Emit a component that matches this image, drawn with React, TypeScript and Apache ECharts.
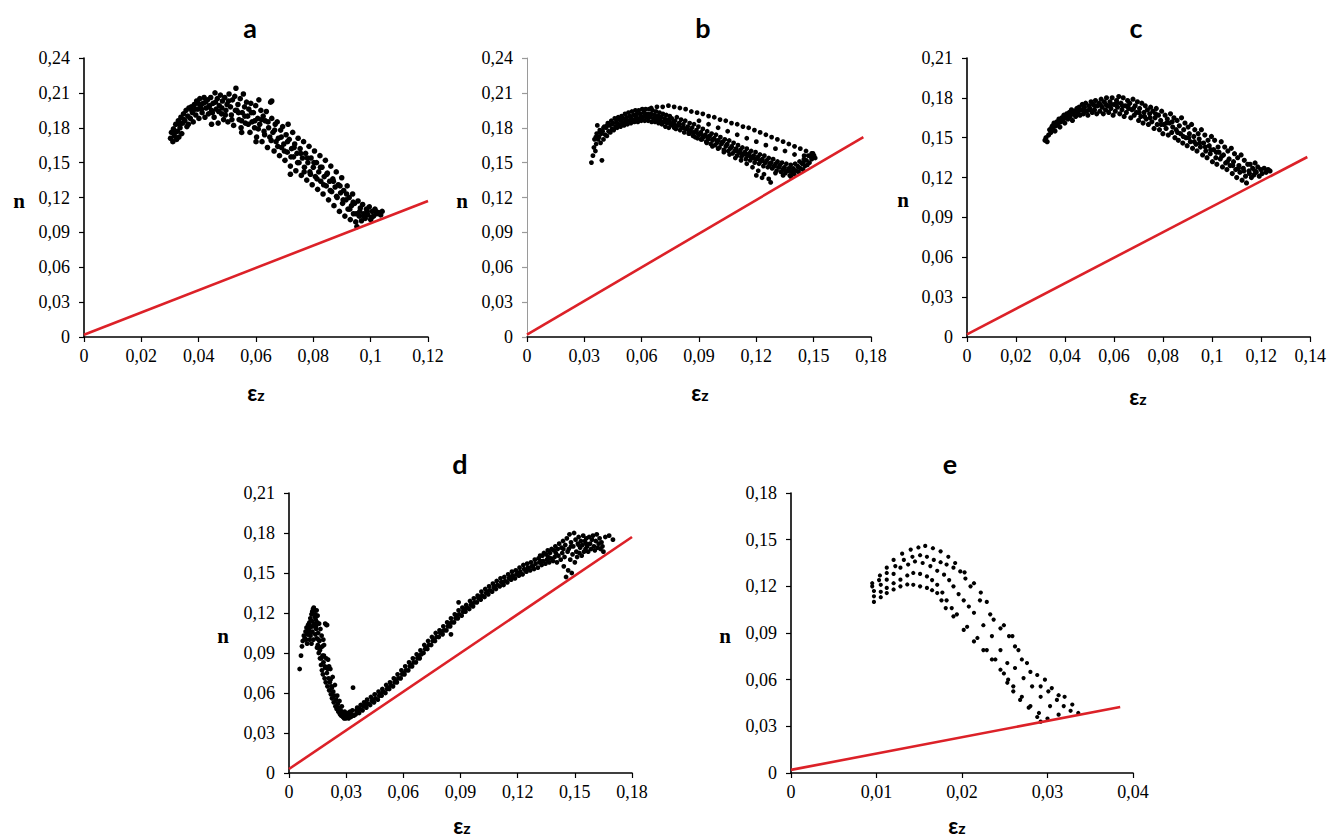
import React, { useEffect, useRef } from "react";
import * as echarts from "echarts";

// ---------- DATA ----------
const panelTitles = ["a", "b", "c", "d", "e"];
const xMax = [0.12, 0.18, 0.14, 0.18, 0.04];
const xStep = [0.02, 0.03, 0.02, 0.03, 0.01];
const yMax = [0.24, 0.24, 0.21, 0.21, 0.18];
const yStep = [0.03, 0.03, 0.03, 0.03, 0.03];

const redLineA = [[0, 0.002], [0.12, 0.117]];
const redLineB = [[0, 0.002], [0.176, 0.172]];
const redLineC = [[0, 0.002], [0.1388, 0.1355]];
const redLineD = [[0, 0.003], [0.18, 0.177]];
const redLineE = [[0, 0.002], [0.0385, 0.0424]];

const pointsA = [
  [0.0302,0.171],[0.0305,0.176],[0.0310,0.168],[0.0312,0.179],[0.0315,0.173],
  [0.0320,0.183],[0.0323,0.170],[0.0326,0.177],[0.0329,0.186],[0.0331,0.172],
  [0.0335,0.180],[0.0338,0.189],[0.0341,0.175],[0.0344,0.184],[0.0347,0.192],
  [0.0352,0.186],[0.0356,0.195],[0.0359,0.181],[0.0362,0.190],[0.0366,0.197],
  [0.0371,0.188],[0.0374,0.198],[0.0378,0.193],[0.0381,0.185],[0.0385,0.200],
  [0.0390,0.191],[0.0393,0.203],[0.0397,0.196],[0.0401,0.188],[0.0404,0.205],[0.0407,0.199],
  [0.0412,0.193],[0.0415,0.201],[0.0419,0.206],[0.0422,0.189],[0.0426,0.197],
  [0.0431,0.204],[0.0434,0.192],[0.0438,0.199],[0.0442,0.206],[0.0445,0.195],
  [0.0450,0.201],[0.0454,0.189],[0.0457,0.210],[0.0461,0.196],[0.0465,0.205],[0.0468,0.184],
  [0.0472,0.199],[0.0476,0.208],[0.0480,0.192],[0.0483,0.203],[0.0487,0.187],
  [0.0491,0.206],[0.0495,0.195],[0.0499,0.200],[0.0502,0.185],[0.0506,0.209],
  [0.0511,0.198],[0.0514,0.191],[0.0518,0.204],[0.0522,0.182],[0.0526,0.207],[0.0530,0.214],
  [0.0533,0.195],[0.0537,0.200],[0.0541,0.187],[0.0545,0.205],[0.0548,0.180],
  [0.0552,0.193],[0.0556,0.209],[0.0560,0.198],[0.0563,0.184],[0.0567,0.202],
  [0.0571,0.190],[0.0575,0.196],[0.0579,0.176],[0.0582,0.201],[0.0586,0.185],
  [0.0591,0.193],[0.0595,0.180],[0.0599,0.199],[0.0602,0.172],[0.0606,0.188],[0.0610,0.204],
  [0.0613,0.183],[0.0617,0.195],[0.0621,0.168],[0.0625,0.190],[0.0628,0.177],
  [0.0632,0.186],[0.0636,0.194],[0.0640,0.163],[0.0644,0.180],[0.0648,0.172],[0.0651,0.202],
  [0.0655,0.188],[0.0659,0.176],[0.0663,0.160],[0.0667,0.183],[0.0670,0.168],
  [0.0674,0.185],[0.0678,0.171],[0.0682,0.156],[0.0686,0.178],[0.0689,0.163],
  [0.0693,0.181],[0.0697,0.166],[0.0701,0.152],[0.0705,0.174],[0.0709,0.159],[0.0712,0.183],
  [0.0716,0.170],[0.0720,0.147],[0.0724,0.162],[0.0728,0.176],[0.0731,0.155],
  [0.0735,0.166],[0.0739,0.143],[0.0743,0.158],[0.0747,0.171],[0.0750,0.150],
  [0.0754,0.162],[0.0758,0.139],[0.0762,0.154],[0.0766,0.168],[0.0769,0.146],
  [0.0773,0.158],[0.0777,0.135],[0.0781,0.150],[0.0785,0.164],[0.0788,0.142],
  [0.0792,0.154],[0.0796,0.131],[0.0800,0.146],[0.0804,0.160],[0.0807,0.138],
  [0.0811,0.150],[0.0815,0.127],[0.0819,0.142],[0.0823,0.156],[0.0826,0.134],
  [0.0830,0.146],[0.0834,0.123],[0.0838,0.138],[0.0842,0.152],[0.0845,0.130],
  [0.0849,0.141],[0.0853,0.118],[0.0857,0.134],[0.0861,0.147],[0.0864,0.125],
  [0.0868,0.136],[0.0872,0.113],[0.0876,0.129],[0.0880,0.142],[0.0883,0.120],
  [0.0887,0.131],[0.0891,0.108],[0.0895,0.124],[0.0899,0.137],[0.0902,0.115],
  [0.0906,0.126],[0.0910,0.104],[0.0914,0.118],[0.0918,0.130],[0.0921,0.110],
  [0.0925,0.120],[0.0929,0.101],[0.0933,0.113],[0.0937,0.123],[0.0940,0.106],
  [0.0944,0.115],[0.0948,0.099],[0.0952,0.095],[0.0956,0.117],[0.0960,0.104],
  [0.0964,0.111],[0.0968,0.100],[0.0972,0.114],[0.0976,0.106],
  [0.0981,0.102],[0.0985,0.110],[0.0990,0.105],[0.0995,0.112],[0.1000,0.101],
  [0.1005,0.108],[0.1010,0.104],[0.1015,0.110],[0.1020,0.106],
  [0.1028,0.107],[0.1035,0.105],[0.1040,0.108]
];
const pointsAFill = [
  [0.0318,0.176],[0.0333,0.183],[0.0349,0.187],[0.0364,0.183],[0.0376,0.195],[0.0388,0.196],
  [0.0399,0.201],[0.0410,0.196],[0.0424,0.202],[0.0436,0.198],[0.0448,0.193],[0.0459,0.202],
  [0.0470,0.194],[0.0481,0.197],[0.0493,0.191],[0.0504,0.203],[0.0516,0.187],[0.0528,0.195],
  [0.0539,0.193],[0.0550,0.186],[0.0561,0.190],[0.0573,0.183],[0.0584,0.193],[0.0596,0.186],
  [0.0608,0.179],[0.0619,0.187],[0.0630,0.174],[0.0642,0.185],[0.0653,0.169],[0.0665,0.178],
  [0.0676,0.164],[0.0688,0.172],[0.0699,0.160],[0.0710,0.168],[0.0722,0.155],[0.0733,0.163],
  [0.0745,0.150],[0.0756,0.158],[0.0768,0.142],[0.0779,0.154],[0.0790,0.140],[0.0802,0.150],
  [0.0813,0.136],[0.0825,0.146],[0.0836,0.131],[0.0847,0.140],[0.0859,0.126],[0.0870,0.134],
  [0.0881,0.121],[0.0893,0.130],[0.0904,0.118],[0.0916,0.123],[0.0927,0.110],[0.0939,0.116],
  [0.0950,0.106],[0.0962,0.108],[0.0975,0.104],[0.0988,0.108],[0.1003,0.103],[0.1018,0.108],
  [0.0655,0.203],[0.0445,0.183],[0.0550,0.176],[0.0600,0.168],[0.0720,0.140]
];

const pointsBMain = [
  [0.0337,0.150],[0.0345,0.156],[0.0350,0.163],[0.0353,0.170],
  [0.0358,0.160],[0.0362,0.166],[0.0365,0.175],[0.0368,0.182],[0.0372,0.170],
  [0.0377,0.172],[0.0381,0.178],[0.0385,0.167],[0.0389,0.175],[0.0392,0.152],
  [0.0396,0.177],[0.0400,0.170],[0.0405,0.181],[0.0409,0.174],
  [0.0414,0.180],[0.0418,0.173],[0.0423,0.184],[0.0427,0.177],
  [0.0432,0.182],[0.0436,0.176],[0.0441,0.186],[0.0445,0.179],
  [0.0450,0.184],[0.0454,0.178],[0.0459,0.188],[0.0463,0.181],
  [0.0468,0.186],[0.0472,0.180],[0.0477,0.189],[0.0481,0.183],
  [0.0486,0.187],[0.0490,0.181],[0.0495,0.190],[0.0499,0.184],
  [0.0504,0.188],[0.0508,0.182],[0.0513,0.192],[0.0517,0.185],
  [0.0522,0.189],[0.0526,0.183],[0.0531,0.193],[0.0535,0.186],
  [0.0540,0.190],[0.0544,0.184],[0.0549,0.194],[0.0553,0.187],
  [0.0558,0.191],[0.0562,0.185],[0.0567,0.195],[0.0571,0.188],
  [0.0576,0.192],[0.0580,0.185],[0.0585,0.195],[0.0589,0.188],
  [0.0594,0.192],[0.0598,0.186],[0.0603,0.196],[0.0607,0.189],
  [0.0612,0.193],[0.0616,0.186],[0.0621,0.196],[0.0625,0.189],
  [0.0630,0.192],[0.0634,0.186],[0.0639,0.196],[0.0643,0.189],
  [0.0648,0.192],[0.0652,0.185],[0.0657,0.195],[0.0661,0.188],
  [0.0666,0.191],[0.0670,0.185],[0.0675,0.194],[0.0679,0.187],
  [0.0684,0.190],[0.0688,0.184],[0.0693,0.193],[0.0697,0.186],
  [0.0702,0.189],[0.0706,0.183],[0.0711,0.192],[0.0715,0.185],
  [0.0720,0.188],[0.0724,0.181],[0.0729,0.191],[0.0733,0.184],
  [0.0738,0.187],[0.0742,0.180],[0.0747,0.190],[0.0751,0.183],
  [0.0757,0.188],[0.0761,0.182],[0.0766,0.185],[0.0770,0.180],
  [0.0775,0.186],[0.0779,0.179],[0.0784,0.189],[0.0788,0.182],
  [0.0796,0.184],[0.0801,0.178],[0.0806,0.187],[0.0810,0.180],
  [0.0818,0.183],[0.0823,0.176],[0.0828,0.186],[0.0833,0.179],
  [0.0841,0.181],[0.0846,0.175],[0.0851,0.184],[0.0856,0.177],
  [0.0864,0.180],[0.0869,0.173],[0.0874,0.183],[0.0879,0.176],
  [0.0887,0.178],[0.0892,0.171],[0.0897,0.181],[0.0902,0.174],
  [0.0910,0.176],[0.0915,0.170],[0.0920,0.179],[0.0925,0.172],
  [0.0933,0.174],[0.0938,0.168],[0.0943,0.177],[0.0948,0.170],
  [0.0956,0.173],[0.0961,0.166],[0.0966,0.175],[0.0971,0.169],
  [0.0979,0.171],[0.0984,0.165],[0.0989,0.174],[0.0994,0.167],
  [0.1002,0.169],[0.1007,0.163],[0.1012,0.172],[0.1017,0.166],
  [0.1025,0.168],[0.1030,0.161],[0.1035,0.170],[0.1040,0.164],
  [0.1048,0.166],[0.1053,0.160],[0.1058,0.169],[0.1063,0.162],
  [0.1071,0.164],[0.1076,0.158],[0.1081,0.167],[0.1086,0.160],
  [0.1094,0.162],[0.1099,0.156],[0.1104,0.165],[0.1109,0.159],
  [0.1117,0.161],[0.1122,0.155],[0.1127,0.163],[0.1132,0.157],
  [0.1140,0.159],[0.1145,0.153],[0.1150,0.162],[0.1155,0.156],
  [0.1163,0.158],[0.1168,0.152],[0.1173,0.160],[0.1178,0.154],
  [0.1186,0.156],[0.1191,0.150],[0.1196,0.159],[0.1201,0.153],
  [0.1209,0.155],[0.1214,0.149],[0.1219,0.157],[0.1224,0.151],
  [0.1232,0.153],[0.1237,0.147],[0.1242,0.156],[0.1247,0.150],
  [0.1255,0.152],[0.1260,0.146],[0.1265,0.154],[0.1270,0.148],
  [0.1278,0.150],[0.1283,0.145],[0.1288,0.153],[0.1293,0.147],
  [0.1301,0.149],[0.1306,0.143],[0.1311,0.151],[0.1316,0.146],
  [0.1324,0.148],[0.1329,0.142],[0.1334,0.150],[0.1339,0.144],
  [0.1347,0.146],[0.1352,0.141],[0.1357,0.149],[0.1362,0.143],
  [0.1370,0.145],[0.1375,0.139],[0.1380,0.148],[0.1385,0.142],
  [0.1393,0.145],[0.1398,0.140],[0.1403,0.149],[0.1408,0.143],
  [0.1416,0.147],[0.1421,0.142],[0.1426,0.151],[0.1431,0.145],
  [0.1439,0.149],[0.1444,0.144],[0.1449,0.153],[0.1454,0.147],
  [0.1462,0.152],[0.1467,0.148],[0.1472,0.156],[0.1478,0.150],
  [0.1485,0.155],[0.1490,0.153],[0.1496,0.158],[0.1502,0.156],[0.1508,0.154]
];
const pointsBFill = [
  [0.0360,0.172],[0.0380,0.176],[0.0400,0.180],[0.0420,0.182],[0.0445,0.183],[0.0470,0.184],
  [0.0495,0.186],[0.0520,0.187],[0.0545,0.188],[0.0570,0.190],[0.0595,0.190],[0.0620,0.191],
  [0.0645,0.190],[0.0670,0.190],[0.0695,0.189],[0.0720,0.186],[0.0745,0.185],[0.0770,0.183],
  [0.0795,0.182],[0.0820,0.180],[0.0845,0.178],[0.0870,0.176],[0.0895,0.175],[0.0920,0.173],
  [0.0945,0.172],[0.0970,0.170],[0.0995,0.169],[0.1020,0.167],[0.1045,0.165],[0.1070,0.163],
  [0.1095,0.160],[0.1120,0.158],[0.1145,0.157],[0.1170,0.155],[0.1195,0.153],[0.1220,0.152],
  [0.1245,0.150],[0.1270,0.149],[0.1295,0.147],[0.1320,0.146],[0.1345,0.145],[0.1370,0.143],
  [0.1395,0.144],[0.1420,0.146],[0.1445,0.150]
];
const pointsBUpper = [
  [0.0650,0.197],[0.0680,0.198],[0.0710,0.198],[0.0740,0.199],[0.0770,0.198],[0.0800,0.197],
  [0.0830,0.196],[0.0860,0.194],[0.0890,0.193],[0.0920,0.192],[0.0950,0.190],[0.0980,0.189],
  [0.1010,0.187],[0.1040,0.186],[0.1070,0.184],[0.1100,0.183],[0.1130,0.181],[0.1160,0.180],
  [0.1190,0.178],[0.1220,0.176],[0.1250,0.174],[0.1280,0.172],[0.1310,0.170],[0.1340,0.168],
  [0.1370,0.166],[0.1400,0.164],[0.1430,0.162],[0.1460,0.160],[0.1490,0.158],
  [0.0900,0.186],[0.0950,0.183],[0.1000,0.180],[0.1050,0.177],[0.1100,0.174],[0.1150,0.171],
  [0.1200,0.168],[0.1250,0.165],[0.1300,0.162],[0.1350,0.160],[0.1400,0.157],[0.1450,0.156]
];
const pointsBLower = [
  [0.0850,0.175],[0.0880,0.172],[0.0910,0.170],[0.0940,0.167],[0.0970,0.164],[0.1000,0.162],
  [0.1030,0.159],[0.1060,0.157],[0.1090,0.154],[0.1120,0.152],[0.1150,0.149],[0.1180,0.146],
  [0.1210,0.143],[0.1240,0.140],[0.1265,0.136],[0.1275,0.133],[0.1200,0.139],[0.1230,0.137],
  [0.1300,0.141],[0.1340,0.139],[0.1380,0.138]
];

const pointsC = [
  [0.0318,0.148],[0.0322,0.150],[0.0327,0.147],
  [0.0333,0.152],[0.0337,0.156],[0.0342,0.154],[0.0346,0.158],
  [0.0351,0.157],[0.0355,0.161],[0.0359,0.155],[0.0363,0.159],[0.0367,0.162],
  [0.0371,0.160],[0.0375,0.164],[0.0379,0.158],[0.0383,0.162],[0.0387,0.165],
  [0.0391,0.163],[0.0395,0.167],[0.0399,0.161],[0.0403,0.165],[0.0407,0.168],
  [0.0412,0.164],[0.0417,0.169],[0.0421,0.166],[0.0426,0.171],[0.0430,0.163],[0.0434,0.168],
  [0.0439,0.170],[0.0443,0.166],[0.0448,0.172],[0.0452,0.168],[0.0457,0.173],[0.0461,0.167],
  [0.0466,0.171],[0.0470,0.175],[0.0475,0.168],[0.0479,0.173],[0.0484,0.176],[0.0488,0.170],[0.0493,0.167],[0.0497,0.174],
  [0.0502,0.172],[0.0506,0.177],[0.0511,0.169],[0.0515,0.175],[0.0520,0.171],[0.0524,0.178],[0.0529,0.168],[0.0533,0.174],
  [0.0538,0.176],[0.0542,0.170],[0.0547,0.179],[0.0551,0.173],[0.0556,0.168],[0.0560,0.177],[0.0565,0.171],[0.0569,0.180],[0.0574,0.174],
  [0.0578,0.169],[0.0583,0.177],[0.0587,0.172],[0.0592,0.180],[0.0596,0.167],[0.0601,0.175],[0.0605,0.170],[0.0610,0.178],[0.0614,0.173],[0.0619,0.181],
  [0.0623,0.168],[0.0628,0.176],[0.0632,0.171],[0.0637,0.180],[0.0641,0.166],[0.0646,0.174],[0.0650,0.169],[0.0655,0.178],[0.0659,0.172],
  [0.0664,0.176],[0.0668,0.165],[0.0673,0.171],[0.0677,0.179],[0.0682,0.167],[0.0686,0.174],[0.0691,0.169],[0.0695,0.177],[0.0700,0.163],
  [0.0704,0.172],[0.0709,0.166],[0.0713,0.176],[0.0718,0.161],[0.0722,0.169],[0.0727,0.174],[0.0731,0.164],[0.0736,0.171],[0.0740,0.160],
  [0.0745,0.168],[0.0749,0.173],[0.0754,0.162],[0.0758,0.170],[0.0763,0.157],[0.0767,0.165],[0.0772,0.172],[0.0776,0.160],[0.0781,0.167],
  [0.0785,0.156],[0.0790,0.163],[0.0794,0.170],[0.0799,0.153],[0.0803,0.160],[0.0808,0.167],[0.0812,0.157],[0.0817,0.164],[0.0821,0.152],
  [0.0826,0.161],[0.0830,0.168],[0.0835,0.154],[0.0839,0.158],[0.0844,0.165],[0.0848,0.150],[0.0853,0.156],[0.0857,0.163],[0.0862,0.148],
  [0.0866,0.159],[0.0871,0.153],[0.0875,0.165],[0.0880,0.146],[0.0884,0.156],[0.0889,0.161],[0.0893,0.150],[0.0898,0.144],[0.0902,0.158],
  [0.0907,0.153],[0.0911,0.147],[0.0916,0.160],[0.0920,0.142],[0.0925,0.151],[0.0929,0.156],[0.0934,0.145],[0.0938,0.140],[0.0943,0.153],
  [0.0947,0.149],[0.0952,0.143],[0.0956,0.156],[0.0961,0.137],[0.0965,0.146],[0.0970,0.152],[0.0974,0.140],[0.0979,0.135],[0.0983,0.148],
  [0.0988,0.144],[0.0992,0.138],[0.0997,0.151],[0.1001,0.132],[0.1006,0.141],[0.1010,0.148],[0.1015,0.135],[0.1019,0.130],[0.1024,0.143],
  [0.1028,0.139],[0.1033,0.134],[0.1037,0.147],[0.1042,0.128],[0.1046,0.137],[0.1051,0.143],[0.1055,0.131],[0.1060,0.126],[0.1064,0.140],
  [0.1069,0.134],[0.1073,0.129],[0.1078,0.142],[0.1082,0.123],[0.1087,0.132],[0.1091,0.138],[0.1096,0.126],[0.1100,0.120],[0.1104,0.135],
  [0.1109,0.129],[0.1113,0.124],[0.1118,0.137],[0.1122,0.118],[0.1127,0.127],[0.1131,0.133],[0.1136,0.121],[0.1140,0.116],[0.1145,0.130],
  [0.1150,0.125],[0.1155,0.130],[0.1160,0.120],[0.1165,0.127],[0.1170,0.122],[0.1175,0.131],
  [0.1180,0.124],[0.1186,0.128],[0.1192,0.121],[0.1198,0.126],[0.1204,0.123],
  [0.1212,0.127],[0.1220,0.124],[0.1228,0.126],[0.1236,0.125]
];
const pointsCFill = [
  [0.0349,0.159],[0.0369,0.161],[0.0389,0.164],[0.0410,0.166],[0.0432,0.170],[0.0455,0.170],
  [0.0477,0.171],[0.0499,0.171],[0.0522,0.174],[0.0544,0.175],[0.0566,0.175],[0.0589,0.175],
  [0.0611,0.176],[0.0634,0.174],[0.0657,0.174],[0.0679,0.172],[0.0702,0.169],[0.0724,0.166],
  [0.0747,0.165],[0.0769,0.168],[0.0792,0.160],[0.0814,0.161],[0.0837,0.162],[0.0859,0.154],
  [0.0882,0.151],[0.0904,0.150],[0.0927,0.147],[0.0949,0.146],[0.0972,0.143],[0.0994,0.141],
  [0.1017,0.139],[0.1039,0.136],[0.1062,0.132],[0.1084,0.129],[0.1107,0.127],[0.1129,0.125],
  [0.1152,0.123],[0.1175,0.125]
];

const pointsDHump = [
  [0.0056,0.078],[0.0063,0.088],[0.0068,0.095],[0.0072,0.099],[0.0078,0.103],[0.0083,0.101],
  [0.0087,0.106],[0.0092,0.109],[0.0096,0.104],[0.0100,0.111],[0.0104,0.107],[0.0108,0.113],
  [0.0112,0.116],[0.0115,0.110],[0.0118,0.119],[0.0122,0.121],[0.0126,0.123],[0.0130,0.124],
  [0.0134,0.122],[0.0138,0.119],
  [0.0105,0.112],[0.0110,0.109],[0.0115,0.105],[0.0120,0.114],[0.0125,0.110],[0.0135,0.117],
  [0.0145,0.122],[0.0150,0.118],[0.0165,0.108],[0.0180,0.100],[0.0190,0.112],[0.0200,0.111],
  [0.0090,0.100],[0.0095,0.097],[0.0102,0.104],[0.0108,0.100],[0.0113,0.103],[0.0118,0.097],
  [0.0123,0.106],[0.0128,0.100],[0.0133,0.112],[0.0138,0.104],[0.0142,0.110],[0.0147,0.094],
  [0.0155,0.100],[0.0162,0.092],[0.0170,0.086],[0.0175,0.095],[0.0183,0.088],[0.0188,0.080],
  [0.0195,0.086],[0.0203,0.078],[0.0210,0.080],[0.0218,0.070],[0.0225,0.064],
  [0.0140,0.115],[0.0143,0.108],[0.0146,0.101],[0.0148,0.113],[0.0151,0.096],[0.0153,0.105],
  [0.0156,0.090],[0.0158,0.112],[0.0160,0.099],[0.0163,0.086],[0.0166,0.094],[0.0168,0.081],
  [0.0171,0.103],[0.0173,0.077],[0.0176,0.088],[0.0178,0.074],[0.0181,0.083],[0.0184,0.096],
  [0.0187,0.071],[0.0190,0.079],[0.0193,0.068],[0.0196,0.111],[0.0199,0.075],[0.0202,0.065],
  [0.0205,0.085],[0.0208,0.071],[0.0211,0.062],[0.0214,0.068],[0.0217,0.078],[0.0220,0.059],
  [0.0223,0.065],[0.0226,0.056],[0.0229,0.072],[0.0232,0.061],[0.0235,0.053],[0.0238,0.058],
  [0.0241,0.066],[0.0244,0.050],[0.0247,0.055],[0.0250,0.048],[0.0253,0.058],[0.0256,0.052],
  [0.0259,0.046],[0.0262,0.049],[0.0265,0.054],[0.0268,0.044],[0.0271,0.047],[0.0274,0.043],
  [0.0277,0.050],[0.0280,0.045],[0.0283,0.042],[0.0286,0.044],[0.0289,0.041],[0.0292,0.046],
  [0.0295,0.043],[0.0298,0.041],[0.0301,0.044],[0.0305,0.042],[0.0309,0.045],[0.0313,0.041],
  [0.0317,0.043],[0.0321,0.046],[0.0325,0.042],[0.0329,0.044],[0.0336,0.064],[0.0333,0.047],
  [0.0340,0.043]
];
const pointsDRise = [
  [0.0350,0.044],[0.0354,0.047],[0.0358,0.049],[0.0368,0.045],[0.0372,0.048],[0.0376,0.051],
  [0.0386,0.047],[0.0390,0.050],[0.0394,0.053],[0.0406,0.049],[0.0410,0.055],[0.0414,0.052],
  [0.0426,0.051],[0.0430,0.057],[0.0434,0.054],[0.0446,0.053],[0.0450,0.059],[0.0454,0.056],
  [0.0466,0.055],[0.0470,0.061],[0.0474,0.058],[0.0486,0.058],[0.0490,0.063],[0.0494,0.061],
  [0.0506,0.060],[0.0510,0.066],[0.0514,0.063],[0.0526,0.063],[0.0530,0.068],[0.0534,0.066],
  [0.0546,0.065],[0.0550,0.071],[0.0554,0.068],[0.0566,0.068],[0.0570,0.074],[0.0574,0.071],
  [0.0586,0.071],[0.0590,0.077],[0.0594,0.074],[0.0606,0.074],[0.0610,0.080],[0.0614,0.077],
  [0.0626,0.077],[0.0630,0.083],[0.0634,0.080],[0.0646,0.080],[0.0650,0.086],[0.0654,0.083],
  [0.0666,0.083],[0.0670,0.089],[0.0674,0.086],[0.0686,0.086],[0.0690,0.092],[0.0694,0.089],
  [0.0706,0.090],[0.0710,0.096],[0.0714,0.093],[0.0726,0.093],[0.0730,0.099],[0.0734,0.096],
  [0.0746,0.096],[0.0750,0.102],[0.0754,0.099],[0.0766,0.099],[0.0770,0.105],[0.0774,0.102],
  [0.0786,0.102],[0.0790,0.107],[0.0794,0.105],[0.0806,0.104],[0.0810,0.110],[0.0814,0.107],
  [0.0826,0.107],[0.0830,0.113],[0.0834,0.110],[0.0846,0.110],[0.0850,0.116],[0.0854,0.113],
  [0.0866,0.113],[0.0870,0.119],[0.0874,0.116],[0.0886,0.116],[0.0890,0.122],[0.0894,0.119],
  [0.0906,0.118],[0.0910,0.124],[0.0914,0.121],[0.0926,0.121],[0.0930,0.126],[0.0934,0.124],
  [0.0946,0.123],[0.0950,0.129],[0.0954,0.126],[0.0966,0.125],[0.0970,0.131],[0.0974,0.128],
  [0.0986,0.128],[0.0990,0.133],[0.0994,0.131],[0.1006,0.130],[0.1010,0.136],[0.1014,0.133],
  [0.1026,0.132],[0.1030,0.138],[0.1034,0.135],[0.1046,0.134],[0.1050,0.140],[0.1054,0.137],
  [0.1066,0.136],[0.1070,0.142],[0.1074,0.139],[0.1086,0.138],[0.1090,0.144],[0.1094,0.141],
  [0.1106,0.140],[0.1110,0.146],[0.1114,0.143],[0.1126,0.141],[0.1130,0.147],[0.1134,0.144],
  [0.1146,0.143],[0.1150,0.149],[0.1154,0.146],[0.1166,0.145],[0.1170,0.151],[0.1174,0.148],
  [0.1186,0.146],[0.1190,0.152],[0.1194,0.149],[0.1206,0.148],[0.1210,0.154],[0.1214,0.151],
  [0.1226,0.149],[0.1230,0.156],[0.1234,0.153],[0.1246,0.151],[0.1250,0.157],[0.1254,0.154],
  [0.1266,0.152],[0.1270,0.158],[0.1274,0.155],[0.1286,0.153],[0.1290,0.160],[0.1294,0.157],
  [0.1306,0.154],[0.1310,0.161],[0.1314,0.158],[0.1318,0.163],
  [0.1326,0.156],[0.1330,0.163],[0.1334,0.159],[0.1338,0.165],
  [0.1346,0.157],[0.1350,0.164],[0.1354,0.160],[0.1358,0.167],
  [0.1366,0.158],[0.1370,0.165],[0.1374,0.161],[0.1378,0.168],
  [0.1386,0.159],[0.1390,0.167],[0.1394,0.162],[0.1398,0.170],
  [0.1406,0.158],[0.1410,0.168],[0.1414,0.163],[0.1418,0.172],
  [0.1426,0.160],[0.1430,0.169],[0.1434,0.165],[0.1438,0.174],[0.1442,0.155],
  [0.1446,0.162],[0.1450,0.171],[0.1454,0.147],[0.1458,0.176],[0.1462,0.166],[0.1465,0.152],
  [0.1468,0.168],[0.1472,0.179],[0.1476,0.160],[0.1480,0.173],[0.1484,0.150],[0.1488,0.164],
  [0.1492,0.170],[0.1496,0.180],[0.1500,0.158],[0.1504,0.175],[0.1508,0.166],[0.1512,0.162],
  [0.1516,0.172],[0.1520,0.177],[0.1524,0.165],[0.1528,0.169],[0.1532,0.174],[0.1536,0.163],
  [0.1540,0.171],[0.1544,0.178],[0.1548,0.166],[0.1552,0.174],[0.1556,0.168],[0.1560,0.176],
  [0.1565,0.170],[0.1570,0.166],[0.1575,0.177],[0.1580,0.172],[0.1585,0.168],[0.1590,0.175],
  [0.1595,0.178],[0.1600,0.170],[0.1605,0.167],[0.1610,0.174],[0.1615,0.179],[0.1620,0.169],
  [0.1625,0.172],[0.1630,0.176],[0.1635,0.168],[0.1640,0.173],[0.1645,0.170],[0.1650,0.166],
  [0.1660,0.177],[0.1680,0.178],[0.1700,0.175]
];
const pointsDFill = [
  [0.0360,0.046],[0.0400,0.051],[0.0440,0.055],[0.0480,0.059],[0.0520,0.064],[0.0560,0.069],
  [0.0600,0.075],[0.0640,0.081],[0.0680,0.087],[0.0720,0.094],[0.0760,0.100],[0.0800,0.106],
  [0.0840,0.112],[0.0880,0.118],[0.0920,0.123],[0.0960,0.127],[0.1000,0.132],[0.1040,0.136],
  [0.1080,0.140],[0.1120,0.143],[0.1160,0.147],[0.1200,0.150],[0.1240,0.152],[0.1280,0.155],
  [0.1320,0.159],[0.1360,0.162],[0.1400,0.165],[0.1440,0.168],[0.1480,0.170],[0.1520,0.171],
  [0.1560,0.172],[0.0890,0.128],[0.0850,0.104]
];

const pointsE1 = [
  [0.0095,0.122],[0.0104,0.127],[0.0112,0.132],[0.0120,0.137],[0.0130,0.141],[0.0140,0.1436],
  [0.0149,0.145],[0.0157,0.146],[0.0166,0.1445],[0.0175,0.1425],[0.0184,0.139],[0.0192,0.135],
  [0.0203,0.129],[0.0214,0.122],[0.0222,0.116],[0.0229,0.110],[0.0237,0.0986],[0.0249,0.095],
  [0.0259,0.088],[0.0266,0.079],[0.0276,0.0707],[0.0288,0.063],[0.0297,0.060],[0.0305,0.0546],
  [0.0313,0.050],[0.0320,0.049],[0.0329,0.044],[0.0336,0.0386]
];
const pointsE2 = [
  [0.0095,0.120],[0.0103,0.124],[0.0112,0.1286],[0.0122,0.133],[0.0132,0.137],[0.0142,0.139],
  [0.0151,0.140],[0.0159,0.139],[0.0167,0.137],[0.0175,0.1355],[0.0182,0.134],[0.0190,0.132],
  [0.0198,0.1296],[0.0204,0.125],[0.0210,0.120],[0.0221,0.111],[0.0233,0.102],[0.0245,0.093],
  [0.0255,0.088],[0.0262,0.0814],[0.0270,0.073],[0.0280,0.065],[0.0292,0.0557],[0.0301,0.0525],
  [0.0311,0.047],[0.0319,0.043],[0.0327,0.040]
];
const pointsE3 = [
  [0.0097,0.117],[0.0105,0.121],[0.0112,0.1243],[0.0120,0.128],[0.0128,0.132],[0.0137,0.134],
  [0.0145,0.136],[0.0154,0.135],[0.0163,0.133],[0.0171,0.130],[0.0179,0.1275],[0.0185,0.124],
  [0.0190,0.120],[0.0196,0.115],[0.0202,0.111],[0.0208,0.107],[0.0214,0.103],[0.0225,0.095],
  [0.0235,0.088],[0.0245,0.079],[0.0253,0.0707],[0.0262,0.0675],[0.0272,0.061],[0.0282,0.0557],
  [0.0292,0.049],[0.0303,0.043],[0.0313,0.0375]
];
const pointsE4 = [
  [0.0097,0.1136],[0.0105,0.1165],[0.0112,0.119],[0.0120,0.122],[0.0128,0.1243],[0.0136,0.127],
  [0.0143,0.1286],[0.0151,0.128],[0.0159,0.1264],[0.0165,0.124],[0.0171,0.121],[0.0177,0.116],
  [0.0182,0.111],[0.0188,0.106],[0.0194,0.102],[0.0206,0.094],[0.0218,0.0868],[0.0229,0.079],
  [0.0239,0.073],[0.0249,0.064],[0.0254,0.060],[0.0260,0.0557],[0.0270,0.049],[0.0280,0.043],
  [0.0290,0.0386],[0.0300,0.035]
];
const pointsE5 = [
  [0.0097,0.110],[0.0105,0.113],[0.0112,0.1157],[0.0120,0.118],[0.0128,0.120],[0.0136,0.1212],
  [0.0143,0.121],[0.0151,0.120],[0.0159,0.119],[0.0165,0.1175],[0.0171,0.1157],[0.0176,0.111],
  [0.0181,0.106],[0.0190,0.1007],[0.0202,0.092],[0.0214,0.0846],[0.0225,0.079],[0.0235,0.073],
  [0.0245,0.0664],[0.0253,0.058],[0.0260,0.0525],[0.0268,0.047],[0.0278,0.042],[0.0288,0.036],
  [0.0292,0.033]
];

// ---------- LAYOUT ----------
const grids = [
  { left: 84, top: 58, width: 344, height: 279 },
  { left: 527, top: 58, width: 344, height: 279 },
  { left: 967, top: 58, width: 344, height: 279 },
  { left: 289, top: 493, width: 343, height: 280 },
  { left: 791, top: 493, width: 342, height: 280 },
];
const titlePos = [[250, 27], [703, 27], [1136, 27], [460, 463], [950, 463]];
const nPos = [[19, 201], [462, 201], [903, 200], [223, 636], [725, 636]];
const ezPos = [[256, 392], [700, 392], [1138, 396], [462, 825], [957, 825]];

const fmt = (v: number) => parseFloat(v.toFixed(4)).toString().replace(".", ",");
const serif = "Liberation Serif";
const sans = "Lato";

export default function App() {
  const ref = useRef<HTMLDivElement>(null);
  useEffect(() => {
    if (!ref.current) return;
    const chart = echarts.init(ref.current, undefined, { renderer: "svg" });

    const scatterSets = [
      [pointsA, pointsAFill],
      [pointsBMain, pointsBFill, pointsBUpper, pointsBLower],
      [pointsC, pointsCFill],
      [pointsDHump, pointsDRise, pointsDFill],
      [pointsE1, pointsE2, pointsE3, pointsE4, pointsE5],
    ];
    const redLines = [redLineA, redLineB, redLineC, redLineD, redLineE];
    const sizes = [5.6, 4.8, 5.2, 4.8, 4.2];

    const series: any[] = [];
    scatterSets.forEach((sets, i) => {
      sets.forEach((pts) => {
        series.push({
          type: "scatter",
          xAxisIndex: i,
          yAxisIndex: i,
          data: pts,
          symbol: "circle",
          symbolSize: sizes[i],
          itemStyle: { color: "#000", opacity: 1 },
          silent: true,
        });
      });
      series.push({
        type: "line",
        xAxisIndex: i,
        yAxisIndex: i,
        data: redLines[i],
        symbol: "none",
        clip: false,
        lineStyle: { color: "#dc2128", width: 2.6 },
        silent: true,
      });
    });

    const labelStyle = {
      color: "#000",
      fontFamily: serif,
      fontSize: 18,
      fontWeight: "normal",
      formatter: fmt,
      showMaxLabel: true,
      showMinLabel: true,
    };
    const axisCommon = (gray: boolean) => ({
      type: "value",
      min: 0,
      axisLine: { show: true, onZero: false, lineStyle: { color: gray ? "#9a9a9a" : "#000", width: gray ? 1 : 1.6 } },
      axisTick: { show: true, inside: false, length: 5, lineStyle: { color: gray ? "#9a9a9a" : "#000", width: 1.2 } },
      splitLine: { show: false },
    });

    const graphics: any[] = [];
    for (let i = 0; i < 5; i++) {
      graphics.push({
        type: "text",
        x: titlePos[i][0],
        y: titlePos[i][1],
        style: { text: panelTitles[i], fill: "#000", fontFamily: sans, fontWeight: "bold", fontSize: 27, textAlign: "center", textVerticalAlign: "middle" },
      });
      graphics.push({
        type: "text",
        x: nPos[i][0],
        y: nPos[i][1],
        style: { text: "n", fill: "#000", fontFamily: serif, fontWeight: "bold", fontSize: 21, textAlign: "center", textVerticalAlign: "middle" },
      });
      graphics.push({
        type: "text",
        x: ezPos[i][0],
        y: ezPos[i][1],
        style: {
          text: "{e|ε}{z|z}",
          textAlign: "center",
          textVerticalAlign: "middle",
          rich: {
            e: { fontFamily: sans, fontWeight: "bold", fontSize: 22, fill: "#000", color: "#000" },
            z: { fontFamily: sans, fontWeight: "bold", fontSize: 16, fill: "#000", color: "#000", padding: [5, 0, 0, 0] },
          },
        },
      });
    }

    chart.setOption({
      animation: false,
      backgroundColor: "#fff",
      textStyle: { fontFamily: serif, fontSize: 18, color: "#000" },
      grid: grids.map((g) => ({ ...g, containLabel: false })),
      xAxis: grids.map((_, i) => ({
        ...axisCommon(false),
        gridIndex: i,
        max: xMax[i],
        interval: xStep[i],
        axisLabel: { ...labelStyle, margin: 10 },
      })),
      yAxis: grids.map((_, i) => ({
        ...axisCommon(i === 1),
        gridIndex: i,
        max: yMax[i],
        interval: yStep[i],
        axisLabel: { ...labelStyle, margin: 14 },
      })),
      series,
      graphic: graphics,
    });

    return () => chart.dispose();
  }, []);

  return (
    <div
      ref={ref}
      style={{ position: "fixed", left: 0, top: 0, width: 1329, height: 837, background: "#fff" }}
    />
  );
}
